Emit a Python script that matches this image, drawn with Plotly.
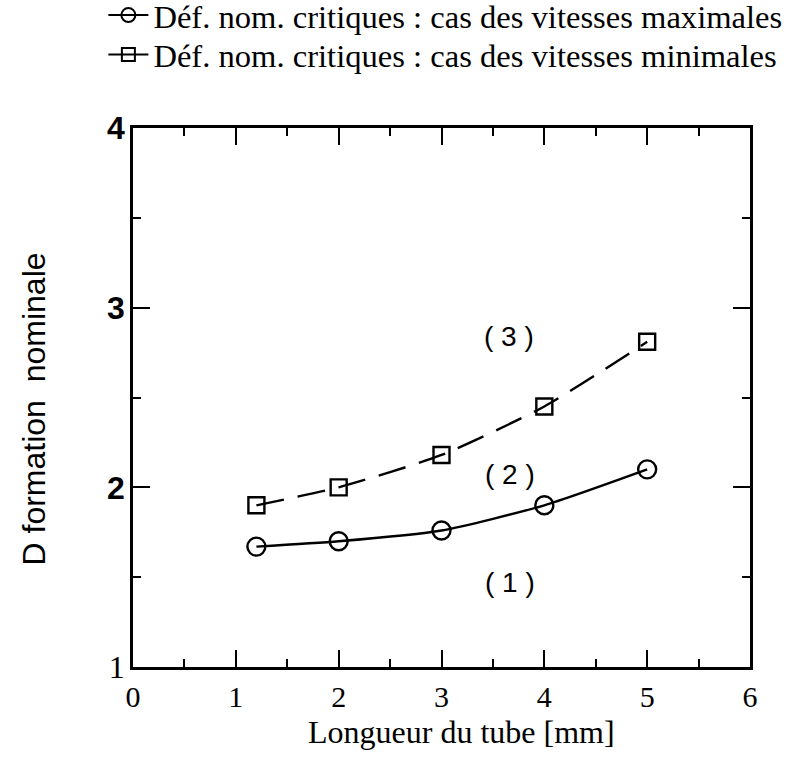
import plotly.graph_objects as go

# Tube length [mm] and nominal critical deformation
tube_length = [1.2, 2.0, 3.0, 4.0, 5.0]
def_max_speed = [1.67, 1.70, 1.76, 1.90, 2.10]   # circles, solid
def_min_speed = [1.90, 2.00, 2.18, 2.45, 2.81]   # squares, dashed

legend_names = [
    "Déf. nom. critiques : cas des vitesses maximales",
    "Déf. nom. critiques : cas des vitesses minimales",
]

# Zone labels
zone_text = ["( 3 )", "( 2 )", "( 1 )"]
zone_x = [3.66, 3.67, 3.67]
zone_y = [2.84, 2.07, 1.47]

x_ticks = [0, 1, 2, 3, 4, 5, 6]
y_ticks = [1, 2, 3, 4]

x_title = "Longueur du tube [mm]"
y_title = "D formation  nominale"

SERIF = "Liberation Serif"
SANS = "Liberation Sans"

fig = go.Figure()

fig.add_trace(go.Scatter(
    x=tube_length, y=def_max_speed, mode="lines+markers",
    line=dict(color="black", width=2.4, shape="spline", smoothing=0.6),
    marker=dict(symbol="circle-open", size=18, color="black", line=dict(width=2.4)),
    showlegend=False,
))
fig.add_trace(go.Scatter(
    x=tube_length, y=def_min_speed, mode="lines+markers",
    line=dict(color="black", width=2.4, dash="28px,14px", shape="spline", smoothing=0.6),
    marker=dict(symbol="square-open", size=16, color="black", line=dict(width=2.4)),
    showlegend=False,
))

# Legend keys with solid lines, one legend box per row
fig.add_trace(go.Scatter(
    x=[None], y=[None], mode="lines+markers", name=legend_names[0], legend="legend",
    line=dict(color="black", width=2),
    marker=dict(symbol="circle-open", size=14, color="black", line=dict(width=2)),
))
fig.add_trace(go.Scatter(
    x=[None], y=[None], mode="lines+markers", name=legend_names[1], legend="legend2",
    line=dict(color="black", width=2),
    marker=dict(symbol="square-open", size=13, color="black", line=dict(width=2)),
))

for t, xx, yy in zip(zone_text, zone_x, zone_y):
    fig.add_annotation(x=xx, y=yy, text=t, showarrow=False,
                       font=dict(family=SANS, size=28, color="black"))

# Axis titles
fig.add_annotation(x=0.533, y=-0.121, xref="paper", yref="paper", text=x_title,
                   showarrow=False, xanchor="center", yanchor="middle",
                   font=dict(family=SERIF, size=32, color="black"))
fig.add_annotation(x=-0.161, y=0.479, xref="paper", yref="paper", text=y_title,
                   showarrow=False, textangle=-90, xanchor="center", yanchor="middle",
                   font=dict(family=SANS, size=32, color="black"))

y_ticktext = [
    "<span style='font-family:Liberation Serif;font-weight:normal'>1</span>",
    "<b>2</b>", "<b>3</b>", "<b>4</b>",
]

legend_style = dict(
    x=-0.048, xanchor="left", yanchor="middle",
    font=dict(family=SERIF, size=32.6, color="black"),
    bgcolor="rgba(0,0,0,0)", itemwidth=40,
)

fig.update_layout(
    width=789, height=759,
    margin=dict(l=133, r=39, t=128, b=92, autoexpand=False),
    paper_bgcolor="white", plot_bgcolor="white",
    legend=dict(y=1.209, **legend_style),
    legend2=dict(y=1.136, **legend_style),
    xaxis=dict(
        range=[0, 6], tickvals=x_ticks, ticktext=[str(v) for v in x_ticks],
        showgrid=False, zeroline=False,
        showline=True, linecolor="black", linewidth=2.5, mirror="ticks",
        ticks="inside", ticklen=17, tickwidth=2, tickcolor="black",
        minor=dict(ticks="inside", ticklen=8, tickwidth=2, dtick=0.5, tickcolor="black", showgrid=False),
        tickfont=dict(family=SERIF, size=30, color="black"),
        ticklabelstandoff=1,
    ),
    yaxis=dict(
        range=[1, 4], tickvals=y_ticks, ticktext=y_ticktext,
        showgrid=False, zeroline=False,
        showline=True, linecolor="black", linewidth=2.5, mirror="ticks",
        ticks="inside", ticklen=17, tickwidth=2, tickcolor="black",
        minor=dict(ticks="inside", ticklen=8, tickwidth=2, dtick=0.5, tickcolor="black", showgrid=False),
        tickfont=dict(family=SANS, size=32, color="black"),
        ticklabelstandoff=-1,
    ),
)

fig.write_html("out.html")
